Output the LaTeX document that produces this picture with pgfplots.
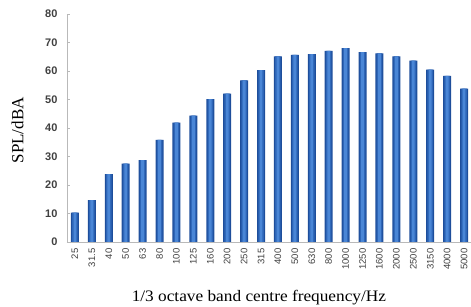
\documentclass[border=0pt]{standalone}
\usepackage{fontspec}
\setmainfont{Liberation Serif}
\newfontfamily\arial{Liberation Sans}
\usepackage{pgfplots}
\pgfplotsset{compat=1.18}
\usepackage{pgfplotstable}
\definecolor{barDark}{HTML}{1E4E9B}
\definecolor{barMid}{HTML}{2E66B8}
\definecolor{barLight}{HTML}{4A86D6}
\definecolor{tickgray}{HTML}{404040}
\pgfplotstableread{
x y
0 10.3
1 14.7
2 23.8
3 27.5
4 28.7
5 35.8
6 41.9
7 44.3
8 50.1
9 52.1
10 56.7
11 60.3
12 65.1
13 65.7
14 65.9
15 67.1
16 68.0
17 66.6
18 66.2
19 65.1
20 63.6
21 60.5
22 58.3
23 53.8
}\spl
\begin{document}
\begin{tikzpicture}
\begin{axis}[
  scale only axis,
  width=404pt, height=228pt,
  xmin=-0.47, xmax=23.41,
  ymin=0, ymax=80,
  ytick={0,10,...,80},
  xtick={0,...,23},
  xticklabels={25,31.5,40,50,63,80,100,125,160,200,250,315,400,500,630,800,1000,1250,1600,2000,2500,3150,4000,5000},
  axis x line*=bottom,
  axis y line*=left,
  axis line style={draw=gray!55, line width=0.6pt, -},
  xtick style={draw=none},
  ytick style={draw=gray!55, line width=0.5pt},
  tick align=inside,
  major tick length=3pt,
  /pgf/number format/assume math mode=true,
  yticklabel style={font=\arial\bfseries\fontsize{11}{13}\selectfont, text=tickgray, xshift=-6pt},
  xticklabel style={font=\arial\fontsize{9.5}{11}\selectfont, text=tickgray, rotate=90, anchor=east},
  xticklabel shift=3pt,
  xlabel={1/3 octave band centre frequency/Hz},
  ylabel={SPL/dBA},
  xlabel style={font=\fontsize{16}{18}\selectfont, xscale=1.08, at={(axis description cs:0.475,0)}, anchor=north, yshift=-45pt},
  ylabel style={font=\fontsize{17}{19}\selectfont, at={(axis description cs:0,0.49)}, anchor=south, yshift=40pt},
  clip=false,
]
\addplot[ybar, bar width=8pt, bar shift=0pt, draw=none, fill=barDark] table[x=x,y=y] {\spl};
\addplot[ybar, bar width=5.5pt, bar shift=0pt, draw=none, fill=barMid] table[x=x,y=y] {\spl};
\addplot[ybar, bar width=2.8pt, bar shift=0pt, draw=none, fill=barLight] table[x=x,y=y] {\spl};
\coordinate (O) at (rel axis cs:0,0);
\end{axis}
\pgfresetboundingbox
\path[use as bounding box] ([shift={(-67pt,-65pt)}]O) rectangle ++(471pt,307pt);
\end{tikzpicture}
\end{document}
